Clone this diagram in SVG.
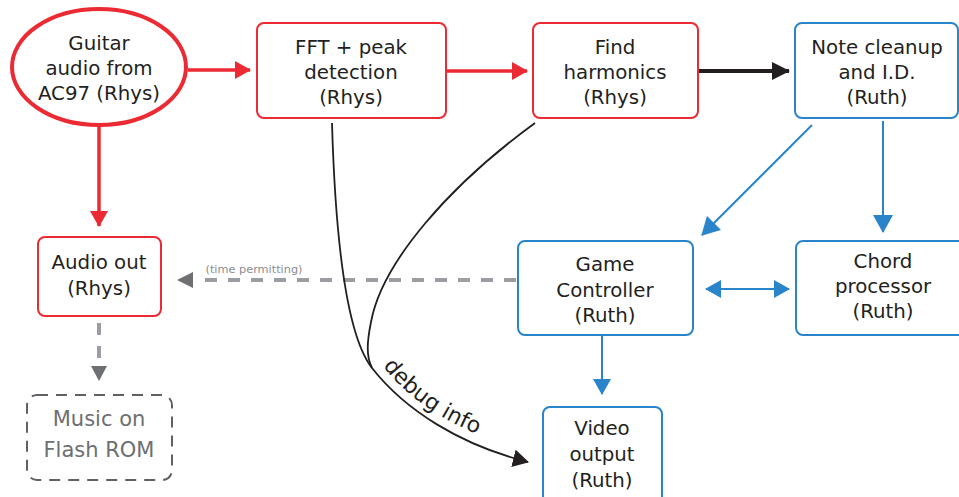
<svg xmlns="http://www.w3.org/2000/svg" width="959" height="497" viewBox="0 0 959 497">
<style>
  text { font-family: "DejaVu Sans", "Liberation Sans", sans-serif; font-size: 19.8px; fill: #231f20; text-anchor: middle; }
  .red { fill: #fff; stroke: #ec2a33; stroke-width: 2; }
  .blue { fill: #fff; stroke: #2a84c9; stroke-width: 2; }
  .gray { fill: #fff; stroke: #5f6164; stroke-width: 2; stroke-dasharray: 11 8; }
  .gtext { fill: #6d6f72; font-size: 21px; }
  .lred { stroke: #ec2a33; stroke-width: 3.5; fill: none; }
  .lblack { stroke: #231f20; stroke-width: 4; fill: none; }
  .lblue { stroke: #2a84c9; stroke-width: 2; fill: none; }
  .lgray { stroke: #9a9ea3; stroke-width: 4; fill: none; stroke-dasharray: 12 11; }
  .lcurve { stroke: #231f20; stroke-width: 1.8; fill: none; }
</style>
<defs>
  <marker id="hr" markerUnits="userSpaceOnUse" markerWidth="16" markerHeight="18" refX="15" refY="9" orient="auto"><path d="M0,0 L16,9 L0,18 z" fill="#ec2a33"/></marker>
  <marker id="hk" markerUnits="userSpaceOnUse" markerWidth="18" markerHeight="18" refX="17" refY="9" orient="auto"><path d="M0,0 L18,9 L0,18 z" fill="#231f20"/></marker>
  <marker id="hb" markerUnits="userSpaceOnUse" markerWidth="18" markerHeight="20" refX="17" refY="10" orient="auto"><path d="M0,0 L18,10 L0,20 z" fill="#2a84c9"/></marker>
  <marker id="hbs" markerUnits="userSpaceOnUse" markerWidth="16" markerHeight="18" refX="15" refY="9" orient="auto-start-reverse"><path d="M0,0 L16,9 L0,18 z" fill="#2a84c9"/></marker>
  <marker id="hc" markerUnits="userSpaceOnUse" markerWidth="16" markerHeight="18" refX="15" refY="9" orient="auto"><path d="M0,0 L16,9 L0,18 z" fill="#231f20"/></marker>
</defs>

<g id="connectors">
  <line class="lred" x1="188" y1="70" x2="250" y2="70" marker-end="url(#hr)"/>
  <line class="lred" x1="447" y1="71" x2="527" y2="71" marker-end="url(#hr)"/>
  <line class="lblack" x1="699" y1="71" x2="789" y2="71" marker-end="url(#hk)"/>
  <line class="lred" x1="99" y1="126" x2="99" y2="226" marker-end="url(#hr)"/>
  <line class="lgray" x1="99" y1="322" x2="99" y2="368" stroke-dashoffset="-1"/>
  <path d="M91,366 L107,366 L99,381 z" fill="#6d6f72"/>
  <line class="lgray" x1="516" y1="280" x2="194" y2="280"/>
  <path d="M193,272 L193,288 L177,280 z" fill="#6d6f72"/>
  <text x="254" y="273" style="font-size:11.3px; fill:#8a8d90">(time permitting)</text>
  <line class="lblue" x1="812" y1="125" x2="702" y2="235" marker-end="url(#hb)"/>
  <line class="lblue" x1="883" y1="121" x2="883" y2="232" marker-end="url(#hb)"/>
  <line class="lblue" x1="706" y1="289" x2="789" y2="289" marker-start="url(#hbs)" marker-end="url(#hbs)"/>
  <line class="lblue" x1="602" y1="336" x2="602" y2="394" marker-end="url(#hbs)"/>
  <path class="lcurve" d="M332,123 C336,260 350,340 372,368 C405,410 460,445 528,462" marker-end="url(#hc)"/>
  <path class="lcurve" d="M535,123 C450,185 382,262 371,322 C367,342 366,356 372,368"/>
  <path id="dbg" d="M383,366 C412,404 458,432 525,450" fill="none"/>
  <text style="font-size:22px; text-anchor:start"><textPath href="#dbg">debug info</textPath></text>
</g>

<g id="guitar">
  <ellipse cx="99" cy="67" rx="87" ry="58" fill="#fff" stroke="#ec2a33" stroke-width="4"/>
  <text x="99" y="50">Guitar</text>
  <text x="99" y="75">audio from</text>
  <text x="99" y="100">AC97 (Rhys)</text>
</g>
<g id="fft">
  <rect class="red" x="257" y="23" width="189" height="95" rx="7"/>
  <text x="351" y="54">FFT + peak</text>
  <text x="351" y="79">detection</text>
  <text x="351" y="104">(Rhys)</text>
</g>
<g id="harmonics">
  <rect class="red" x="533" y="23" width="165" height="95" rx="7"/>
  <text x="615" y="54">Find</text>
  <text x="615" y="79">harmonics</text>
  <text x="615" y="104">(Rhys)</text>
</g>
<g id="note">
  <rect class="blue" x="795" y="23" width="163" height="95" rx="7"/>
  <text x="877" y="54">Note cleanup</text>
  <text x="877" y="79">and I.D.</text>
  <text x="877" y="104">(Ruth)</text>
</g>
<g id="audioout">
  <rect class="red" x="38" y="237" width="123" height="79" rx="7"/>
  <text x="99" y="269">Audio out</text>
  <text x="99" y="295">(Rhys)</text>
</g>
<g id="music">
  <rect class="gray" x="27" y="395" width="145" height="85" rx="10"/>
  <text class="gtext" x="99" y="426">Music on</text>
  <text class="gtext" x="99" y="457">Flash ROM</text>
</g>
<g id="game">
  <rect class="blue" x="518" y="241" width="175" height="94" rx="7"/>
  <text x="605" y="271">Game</text>
  <text x="605" y="297">Controller</text>
  <text x="605" y="322">(Ruth)</text>
</g>
<g id="chord">
  <rect class="blue" x="796" y="241" width="175" height="94" rx="7"/>
  <text x="883" y="268">Chord</text>
  <text x="883" y="293">processor</text>
  <text x="883" y="318">(Ruth)</text>
</g>
<g id="video">
  <rect class="blue" x="543" y="407" width="119" height="100" rx="7"/>
  <text x="602" y="435">Video</text>
  <text x="602" y="461">output</text>
  <text x="602" y="487">(Ruth)</text>
</g>
</svg>
